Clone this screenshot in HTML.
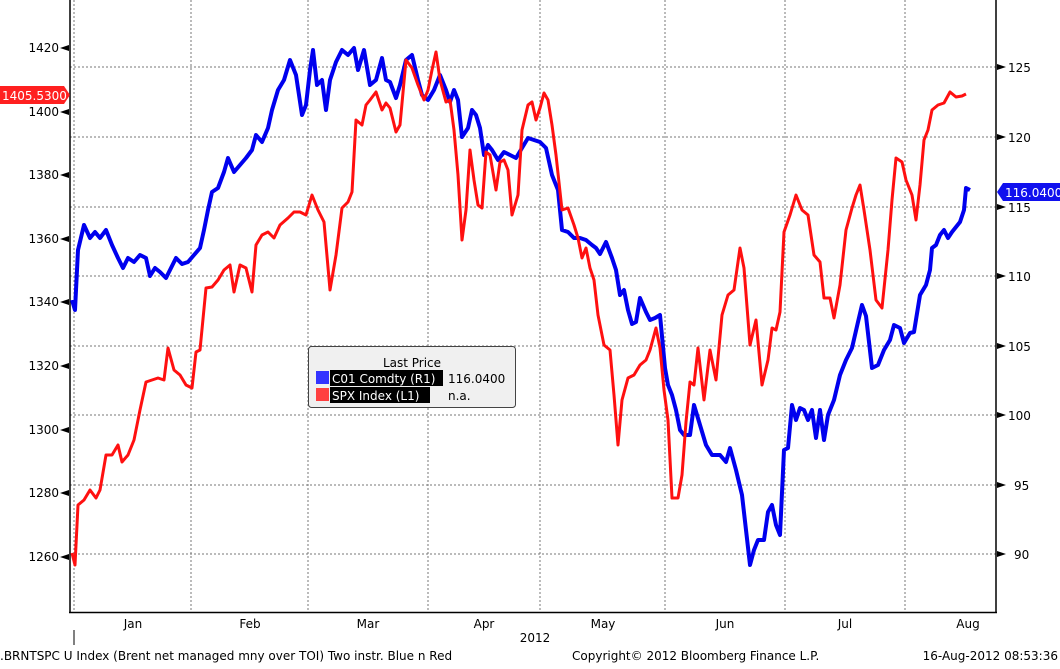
<!DOCTYPE html>
<html><head><style>
body{margin:0;background:#fff;width:1060px;height:665px;overflow:hidden;font-family:Tahoma,"DejaVu Sans","Liberation Sans",sans-serif;}
</style></head><body>
<svg width="1060" height="665" viewBox="0 0 1060 665" xmlns="http://www.w3.org/2000/svg" font-family="Tahoma, 'DejaVu Sans', 'Liberation Sans', sans-serif" font-size="12">
<g stroke="#777" stroke-dasharray="2,2" stroke-width="1">
<line x1="70" y1="67" x2="996" y2="67"/><line x1="70" y1="137" x2="996" y2="137"/><line x1="70" y1="207" x2="996" y2="207"/><line x1="70" y1="276" x2="996" y2="276"/><line x1="70" y1="346" x2="996" y2="346"/><line x1="70" y1="415" x2="996" y2="415"/><line x1="70" y1="485" x2="996" y2="485"/><line x1="70" y1="554" x2="996" y2="554"/>
<line x1="74" y1="0" x2="74" y2="612"/><line x1="191" y1="0" x2="191" y2="612"/><line x1="308" y1="0" x2="308" y2="612"/><line x1="428" y1="0" x2="428" y2="612"/><line x1="540" y1="0" x2="540" y2="612"/><line x1="665" y1="0" x2="665" y2="612"/><line x1="785" y1="0" x2="785" y2="612"/><line x1="905" y1="0" x2="905" y2="612"/>
</g>
<g stroke="#000" stroke-width="1.5" fill="none">
<line x1="70" y1="0" x2="70" y2="613"/><line x1="996" y1="0" x2="996" y2="613"/><line x1="69" y1="612.5" x2="997" y2="612.5"/>
<line x1="74" y1="630" x2="74" y2="645" stroke-width="1"/>
</g>
<g font-size="12" fill="#000" text-anchor="end">
<text x="59" y="52">1420</text><text x="59" y="116">1400</text><text x="59" y="179">1380</text><text x="59" y="243">1360</text><text x="59" y="306">1340</text><text x="59" y="370">1320</text><text x="59" y="434">1300</text><text x="59" y="497">1280</text><text x="59" y="561">1260</text>
</g>
<g fill="#000">
<polygon points="60,48 69,45 69,51"/><polygon points="60,112 69,109 69,115"/><polygon points="60,175 69,172 69,178"/><polygon points="60,239 69,236 69,242"/><polygon points="60,302 69,299 69,305"/><polygon points="60,366 69,363 69,369"/><polygon points="60,430 69,427 69,433"/><polygon points="60,493 69,490 69,496"/><polygon points="60,557 69,554 69,560"/>
<polygon points="1006,67 997,64 997,70"/><polygon points="1006,137 997,134 997,140"/><polygon points="1006,207 997,204 997,210"/><polygon points="1006,276 997,273 997,279"/><polygon points="1006,346 997,343 997,349"/><polygon points="1006,415 997,412 997,418"/><polygon points="1006,485 997,482 997,488"/><polygon points="1006,554 997,551 997,557"/>
</g>
<g font-size="12" fill="#000">
<text x="1008" y="72">125</text><text x="1008" y="142">120</text><text x="1008" y="212">115</text><text x="1008" y="281">110</text><text x="1008" y="351">105</text><text x="1008" y="420">100</text><text x="1014" y="490">95</text><text x="1014" y="559">90</text>
</g>
<g font-size="12" fill="#000" text-anchor="middle">
<text x="133" y="628">Jan</text><text x="250" y="628">Feb</text><text x="368" y="628">Mar</text><text x="484" y="628">Apr</text><text x="603" y="628">May</text><text x="725" y="628">Jun</text><text x="845" y="628">Jul</text><text x="968" y="628">Aug</text>
<text x="535" y="642">2012</text>
</g>
<text x="0" y="660" font-size="12">.BRNTSPC U Index (Brent net managed mny over TOI) Two instr. Blue n Red</text>
<text x="572" y="660" font-size="12">Copyright© 2012 Bloomberg Finance L.P.</text>
<text x="1058" y="660" font-size="12" text-anchor="end">16-Aug-2012 08:53:36</text>
<polyline fill="none" stroke="#0000ee" stroke-width="4" stroke-linejoin="round" points="72,300 75,310 78,250 84,225 90,238 95,232 100,238 106,230 112,245 118,258 123,268 128,258 134,262 140,255 146,258 150,276 155,268 160,272 166,278 170,270 176,258 182,264 188,262 194,255 200,248 204,230 208,210 212,192 218,188 224,172 228,158 234,172 240,165 246,158 252,150 256,135 262,142 268,128 272,110 278,90 284,80 290,60 296,75 302,115 306,105 310,70 313,50 317,85 322,80 326,110 330,80 336,62 342,50 348,55 354,48 358,70 364,50 370,85 376,80 382,58 386,80 390,82 396,98 400,85 406,60 412,55 418,80 422,95 428,100 434,90 440,75 446,90 450,102 454,90 458,100 462,137 468,128 472,110 476,115 480,128 484,155 488,145 492,150 498,160 504,152 510,155 516,158 522,148 528,138 534,140 540,142 546,148 552,175 558,190 562,230 568,232 574,238 580,238 586,240 592,245 596,248 600,254 606,242 612,258 616,270 620,295 624,290 628,310 632,324 636,322 640,298 646,312 650,320 655,318 660,315 665,368 668,385 672,395 676,410 680,430 684,435 690,435 694,405 700,425 706,445 712,455 720,455 726,462 730,448 736,470 742,495 746,530 750,565 754,550 758,540 764,540 768,512 772,505 776,525 780,535 784,450 788,448 792,405 796,420 800,408 804,410 808,420 812,410 816,438 820,410 824,440 828,415 834,400 840,375 846,360 852,348 858,322 862,305 866,316 872,368 878,365 884,350 890,340 894,325 900,328 904,343 910,333 914,332 920,295 926,285 930,270 932,248 936,245 940,235 944,230 948,238 952,232 956,227 960,222 964,210 966,188 970,190"/>
<polyline fill="none" stroke="#ff1010" stroke-width="3" stroke-linejoin="round" points="72,553 75,565 78,505 84,500 90,490 96,498 100,490 106,455 112,455 118,445 122,462 128,455 134,440 140,410 146,382 152,380 158,378 164,380 168,348 174,370 180,375 186,385 192,388 196,352 200,350 206,288 212,287 218,280 224,270 230,265 234,292 240,265 246,268 252,292 256,245 262,235 268,232 274,238 280,225 288,218 294,212 300,212 306,215 312,195 318,210 324,222 330,290 336,255 342,208 348,202 352,192 356,120 362,125 366,105 370,100 376,92 382,110 386,103 390,108 396,132 400,125 406,60 412,68 418,85 424,100 428,90 432,70 436,52 440,80 446,102 450,100 454,130 458,175 462,240 466,210 470,150 474,180 478,205 482,208 486,152 490,155 496,190 500,162 504,160 508,170 512,215 518,195 522,130 528,105 532,102 536,120 540,108 544,93 548,100 552,125 556,155 562,210 568,208 574,225 578,238 582,258 586,248 590,268 594,280 598,315 604,345 610,350 614,395 618,445 622,400 628,378 634,375 640,365 646,360 650,350 656,328 660,348 664,390 668,420 672,498 678,498 682,475 686,422 690,382 694,385 698,348 704,400 710,350 716,380 722,315 728,295 734,290 740,248 744,268 750,345 756,320 762,385 768,360 772,328 776,330 780,312 784,232 790,215 796,195 802,210 808,215 814,255 820,262 824,298 830,298 834,318 840,285 846,230 852,208 856,195 860,185 864,210 870,250 876,300 882,308 888,250 892,200 896,158 902,162 906,180 912,195 916,220 920,185 924,140 928,130 932,110 938,105 944,103 950,92 956,97 962,96 966,94"/>
<polygon points="0,86 64,86 70,95 64,104 0,104" fill="#ff2020"/>
<text x="2" y="100" fill="#fff" font-size="12">1405.5300</text>
<polygon points="1060,183 1003,183 997,192 1003,201 1060,201" fill="#1010ee"/>
<text x="1005" y="197" fill="#fff" font-size="12">116.0400</text>
<rect x="308.5" y="346.5" width="207" height="61" rx="3" fill="#f0f0f0" stroke="#444"/>
<text x="412" y="367" text-anchor="middle" font-size="12">Last Price</text>
<rect x="316" y="371" width="13" height="13" fill="#3333ff"/>
<rect x="316" y="388" width="13" height="13" fill="#ff4040"/>
<rect x="330" y="370" width="113" height="16" fill="#000"/>
<rect x="330" y="387" width="100" height="16" fill="#000"/>
<text x="332" y="383" fill="#fff" font-size="12">C01 Comdty  (R1)</text>
<text x="332" y="400" fill="#fff" font-size="12">SPX Index  (L1)</text>
<text x="448" y="383" font-size="12">116.0400</text>
<text x="448" y="400" font-size="12">n.a.</text>
</svg>
</body></html>
